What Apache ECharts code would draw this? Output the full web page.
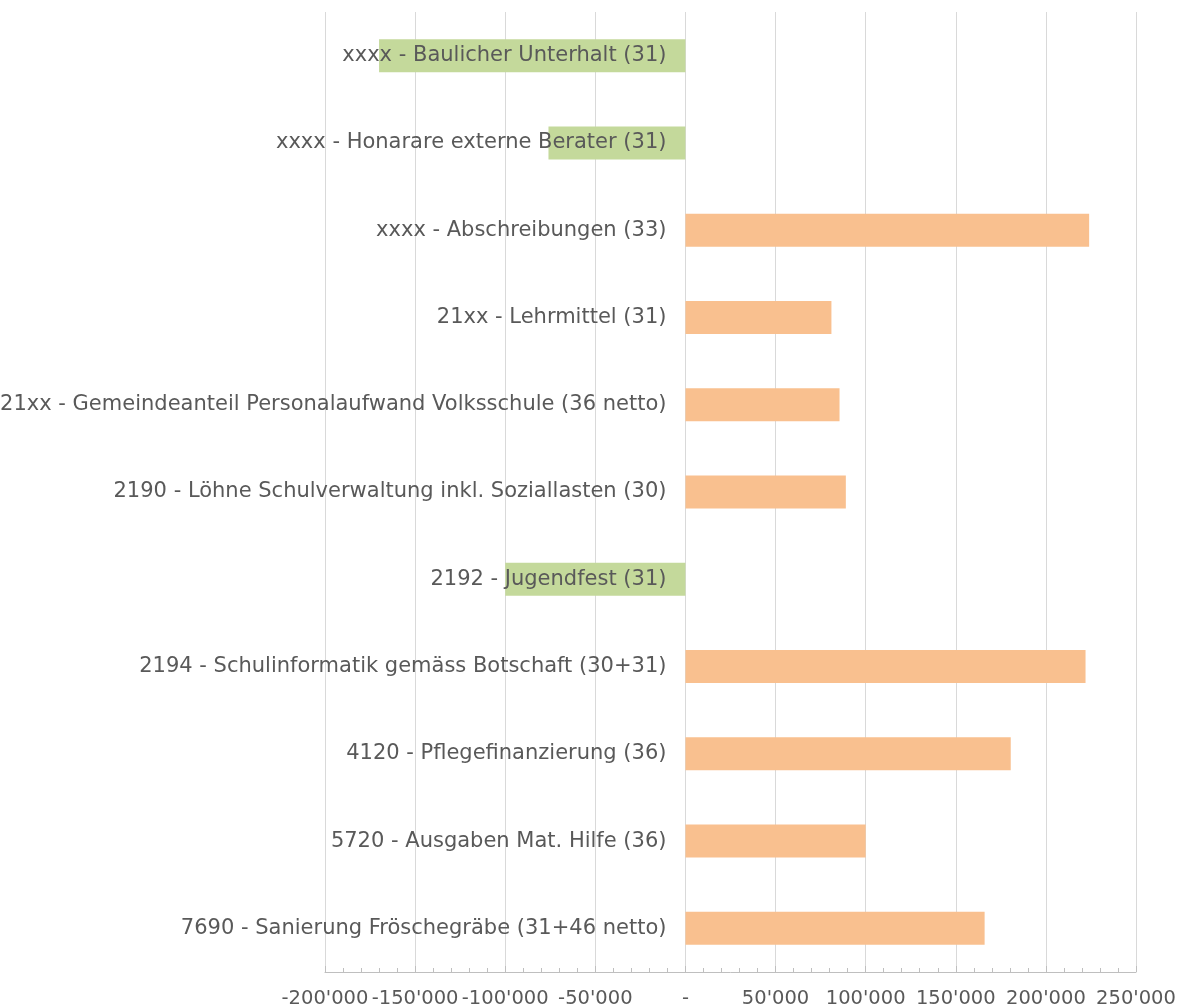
<!DOCTYPE html>
<html>
<head>
<meta charset="utf-8">
<script src="https://cdn.jsdelivr.net/npm/echarts@6/dist/echarts.min.js"></script>
<style>
  html, body { margin: 0; padding: 0; background: #fff; }
  #chart { width: 1188px; height: 1008px; }
</style>
</head>
<body>
<div id="chart"></div>
<script>
// categories, top to bottom
const categories = [
  "xxxx - Baulicher Unterhalt (31)",
  "xxxx - Honarare externe Berater (31)",
  "xxxx - Abschreibungen (33)",
  "21xx - Lehrmittel (31)",
  "21xx - Gemeindeanteil Personalaufwand Volksschule (36 netto)",
  "2190 - Löhne Schulverwaltung inkl. Soziallasten (30)",
  "2192 - Jugendfest (31)",
  "2194 - Schulinformatik gemäss Botschaft (30+31)",
  "4120 - Pflegefinanzierung (36)",
  "5720 - Ausgaben Mat. Hilfe (36)",
  "7690 - Sanierung Fröschegräbe (31+46 netto)"
];
const values = [-170000, -76000, 224000, 81000, 85500, 89000, -100000, 222000, 180500, 100000, 166000];

const xMin = -200000;
const xMax = 250000;
const xStep = 50000;

const posColor = "#f9c08f";
const negColor = "#c4d99b";
const textColor = "#595959";
const fontFamily = "DejaVu Sans, Verdana, sans-serif";

const gridLeft = 325;
const gridRight = 52;
const plotWidth = 1188 - gridLeft - gridRight;
// move the category axis to x = 0 (onZero is not applied to it)
const yOffset = -((0 - xMin) / (xMax - xMin)) * plotWidth;

function fmt(v) {
  if (v === 0) return "-";
  const s = String(Math.abs(v)).replace(/\B(?=(\d{3})+(?!\d))/g, "'");
  return (v < 0 ? "-" : "") + s;
}

const chart = echarts.init(document.getElementById("chart"));
chart.setOption({
  animation: false,
  grid: {
    left: gridLeft,
    right: gridRight,
    top: 12,
    bottom: 36,
    containLabel: false,
    outerBoundsMode: "none"
  },
  xAxis: {
    type: "value",
    min: xMin,
    max: xMax,
    interval: xStep,
    axisLine: { show: true, lineStyle: { color: "#bfbfbf" } },
    axisTick: { show: true, inside: true, length: 6, lineStyle: { color: "#bfbfbf" } },
    minorTick: { show: true, splitNumber: 5, length: 4, lineStyle: { color: "#bfbfbf" } },
    splitLine: { show: true, lineStyle: { color: "#d9d9d9", width: 1 } },
    axisLabel: {
      color: textColor,
      fontFamily: fontFamily,
      fontSize: 19.5,
      margin: 17,
      hideOverlap: false,
      showMinLabel: true,
      showMaxLabel: true,
      formatter: fmt
    }
  },
  yAxis: {
    type: "category",
    inverse: true,
    data: categories,
    position: "left",
    offset: yOffset,
    z: 5,
    axisLine: { show: false },
    axisTick: { show: false },
    axisLabel: {
      color: textColor,
      fontFamily: fontFamily,
      fontSize: 21,
      margin: 19
    }
  },
  series: [
    {
      type: "bar",
      barWidth: 33,
      data: values,
      itemStyle: {
        color: function (p) {
          return p.value < 0 ? negColor : posColor;
        }
      }
    }
  ]
});
</script>
</body>
</html>
